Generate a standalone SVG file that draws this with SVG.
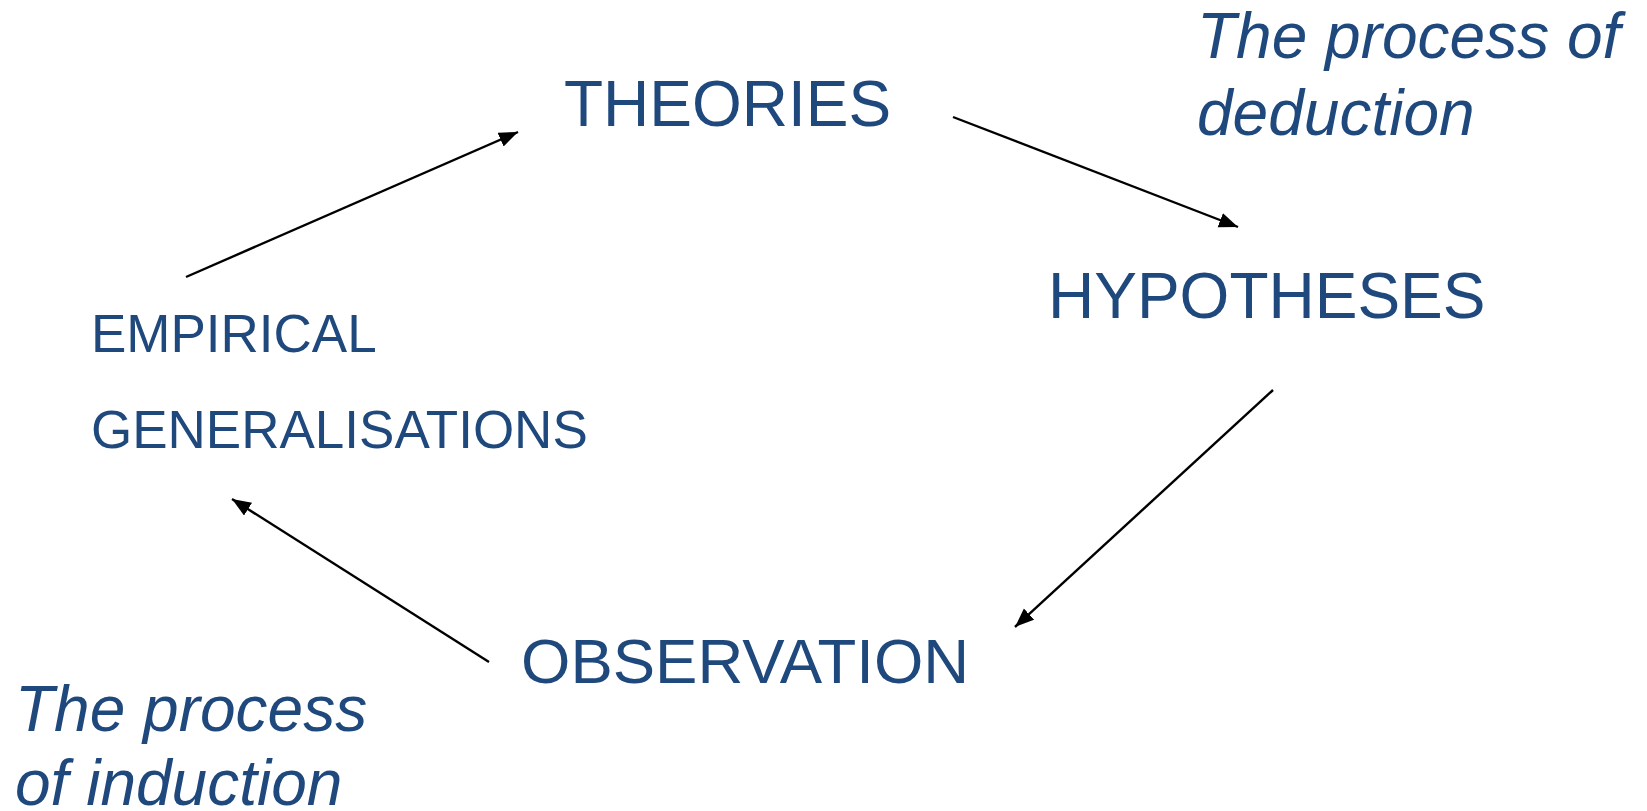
<svg xmlns="http://www.w3.org/2000/svg" width="1647" height="811" viewBox="0 0 1647 811">
<style>
.n{font-family:"Liberation Sans",Arial,sans-serif;fill:#1F497D}
.i{font-family:"Liberation Sans",Arial,sans-serif;fill:#1F497D;font-style:italic;font-size:64px}
.c{stroke:#000;stroke-width:2.4;fill:none;marker-end:url(#ah)}
</style>
<defs>
<marker id="ah" markerUnits="userSpaceOnUse" markerWidth="22" markerHeight="18" refX="19" refY="7.5" orient="auto" viewBox="0 0 22 18">
<path d="M0,0 L19,7.5 L0,15 z" fill="#000"/>
</marker>
</defs>
<rect width="1647" height="811" fill="#fff"/>
<g id="theories"><text class="n" x="564" y="126" font-size="64">THEORIES</text></g>
<g id="hypotheses"><text class="n" x="1048" y="318" font-size="64">HYPOTHESES</text></g>
<g id="observation"><text class="n" x="521" y="683" font-size="63.5">OBSERVATION</text></g>
<g id="empirical"><text class="n" x="91" y="352" font-size="53">EMPIRICAL</text><text class="n" x="91" y="448" font-size="53">GENERALISATIONS</text></g>
<g id="deduction"><text class="i" x="1197" y="58">The process of</text><text class="i" x="1197" y="135">deduction</text></g>
<g id="induction"><text class="i" x="15" y="731">The process</text><text class="i" x="15" y="805">of induction</text></g>
<g id="connectors">
<line class="c" x1="186" y1="277" x2="518" y2="132"/>
<line class="c" x1="953" y1="117" x2="1238" y2="227"/>
<line class="c" x1="1273" y1="390" x2="1015" y2="627"/>
<line class="c" x1="489" y1="662" x2="232" y2="499"/>
</g>
</svg>
